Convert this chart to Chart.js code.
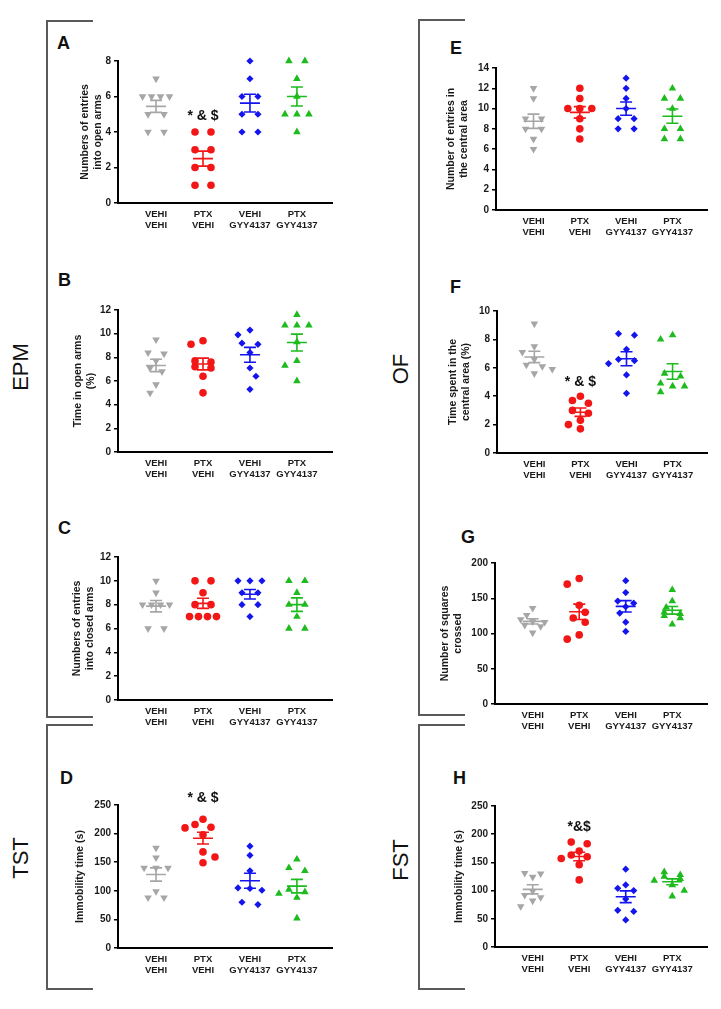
<!DOCTYPE html>
<html>
<head>
<meta charset="utf-8">
<script src="https://cdn.jsdelivr.net/npm/chart.js@4.4.1/dist/chart.umd.min.js"></script>
<style>
body { margin:0; background:#fff; width:721px; height:1009px; position:relative; overflow:hidden; font-family:"Liberation Sans", Arial, sans-serif; color:#111; }
.letter { position:absolute; font-weight:bold; font-size:18px; line-height:1; transform:translateY(-50%); }
.side { position:absolute; font-size:22px; line-height:1; white-space:nowrap; transform:translate(-50%,-50%) rotate(-90deg); }
.br { position:absolute; box-sizing:border-box; border:2px solid #5a5a5a; border-right:none; }
</style>
</head>
<body>
<div class="br" style="left:46px;top:20px;width:47px;height:698px"></div>
<div class="br" style="left:46px;top:724px;width:47px;height:266px"></div>
<div class="br" style="left:418px;top:19px;width:47px;height:697px"></div>
<div class="br" style="left:418px;top:724px;width:47px;height:266px"></div>

<div class="side" style="left:21px;top:367px">EPM</div>
<div class="side" style="left:21px;top:858px">TST</div>
<div class="side" style="left:401px;top:369px">OF</div>
<div class="side" style="left:401px;top:860px">FST</div>

<div class="letter" style="left:57px;top:43px">A</div>
<div class="letter" style="left:58px;top:280px">B</div>
<div class="letter" style="left:58px;top:528px">C</div>
<div class="letter" style="left:60px;top:778px">D</div>
<div class="letter" style="left:450px;top:48px">E</div>
<div class="letter" style="left:450px;top:287px">F</div>
<div class="letter" style="left:461px;top:537px">G</div>
<div class="letter" style="left:453px;top:778px">H</div>

<script>
// groups on the x axis
const groupLabels = [["VEHI", "VEHI"], ["PTX", "VEHI"], ["VEHI", "GYY4137"], ["PTX", "GYY4137"]];

// A - EPM, entries into open arms
const openArmEntries = [
    [7, 6, 6, 6, 6, 5, 5, 4, 4],
    [4, 4, 3, 3, 2, 2, 1, 1],
    [8, 7, 6, 6, 5, 5, 4, 4],
    [8, 8, 7, 6, 5, 5, 5, 4]
];
const openArmEntriesTicks = [0, 2, 4, 6, 8];

// B - EPM, time in open arms (%)
const openArmTime = [
    [9.5, 8.4, 8.3, 7.7, 7.1, 6.8, 5.7, 5.0],
    [9.4, 9.1, 7.7, 7.6, 7.2, 7.1, 6.4, 5.0],
    [10.3, 9.9, 9.2, 9.1, 8.4, 7.1, 6.4, 5.3],
    [11.6, 10.7, 10.7, 10.7, 9.3, 7.7, 7.3, 6.0]
];
const openArmTimeTicks = [0, 2, 4, 6, 8, 10, 12];

// C - EPM, entries into closed arms
const closedArmEntries = [
    [10, 9, 8, 8, 8, 8, 6, 6],
    [10, 10, 9, 8, 8, 7, 7, 7, 7],
    [10, 10, 10, 9, 9, 8, 8, 7],
    [10, 10, 9, 8, 8, 7, 6, 6]
];
const closedArmEntriesTicks = [0, 2, 4, 6, 8, 10, 12];

// D - TST immobility (s)
const tstImmobility = [
    [175, 158, 140, 140, 140, 99, 88, 88],
    [225, 216, 211, 210, 198, 168, 159, 149],
    [178, 162, 135, 105, 104, 101, 80, 76],
    [155, 140, 135, 102, 98, 95, 88, 52]
];
const tstImmobilityTicks = [0, 50, 100, 150, 200, 250];

// E - OF, entries in the central area
const centralEntries = [
    [12, 11, 9, 9, 8, 8, 7, 6],
    [12, 11, 10, 10, 10, 9, 8, 7],
    [13, 12, 11, 10, 9, 9, 8, 8],
    [12, 11, 11, 10, 8, 8, 7, 7]
];
const centralEntriesTicks = [0, 2, 4, 6, 8, 10, 12, 14];

// F - OF, time in the central area (%)
const centralTime = [
    [9.1, 7.5, 7.1, 6.6, 6.2, 6.1, 5.9, 5.6],
    [4.0, 3.7, 3.5, 3.0, 2.8, 2.3, 2.0, 1.7],
    [8.4, 8.3, 7.3, 6.6, 6.5, 6.3, 5.5, 4.2],
    [8.3, 8.0, 5.6, 5.4, 4.9, 4.7, 4.7, 4.3]
];
const centralTimeTicks = [0, 2, 4, 6, 8, 10];

// G - OF, squares crossed
const squaresCrossed = [
    [136, 126, 120, 117, 116, 112, 110, 101],
    [178, 170, 140, 130, 122, 116, 98, 92],
    [175, 158, 146, 143, 138, 129, 116, 103],
    [162, 146, 137, 130, 128, 125, 122, 113]
];
const squaresCrossedTicks = [0, 50, 100, 150, 200];

// H - FST immobility (s)
const fstImmobility = [
    [131, 130, 124, 99, 92, 88, 82, 72],
    [186, 183, 170, 163, 160, 157, 146, 119],
    [138, 110, 104, 100, 85, 65, 63, 48],
    [133, 128, 125, 121, 118, 110, 100, 90]
];
const fstImmobilityTicks = [0, 50, 100, 150, 200, 250];

const colors = ["#a6a6a6", "#f21616", "#1414ee", "#1dbb1d"];
const markers = [
    { style: "triangle", rotation: 180, radius: 4.4 },
    { style: "circle", rotation: 0, radius: 3.8 },
    { style: "rectRot", rotation: 0, radius: 3.6 },
    { style: "triangle", rotation: 0, radius: 4.4 }
];

const X_MIN = 0.19, X_MAX = 4.76;

const panels = [
    { data: openArmEntries, ticks: openArmEntriesTicks, title: ["Numbers of entries", "into open arms"], axisX: 118, top: 61, bottom: 203, right: 333, titleX: 85, sig: { text: "* & $", value: 4.9 } },
    { data: openArmTime, ticks: openArmTimeTicks, title: ["Time in open arms", "(%)"], axisX: 118, top: 310, bottom: 452, right: 333, titleX: 78 },
    { data: closedArmEntries, ticks: closedArmEntriesTicks, title: ["Numbers of entries", "into closed arms"], axisX: 118, top: 557, bottom: 700, right: 333, titleX: 77 },
    { data: tstImmobility, ticks: tstImmobilityTicks, title: "Immobility time (s)", axisX: 118, top: 805, bottom: 948, right: 333, titleX: 80, sig: { text: "* & $", value: 262 } },
    { data: centralEntries, ticks: centralEntriesTicks, title: ["Number of entries in", "the central area"], axisX: 496, top: 68, bottom: 210, right: 708, titleX: 451 },
    { data: centralTime, ticks: centralTimeTicks, title: ["Time spent in the", "central area (%)"], axisX: 497, top: 311, bottom: 453, right: 708, titleX: 453, sig: { text: "* & $", value: 5.0 } },
    { data: squaresCrossed, ticks: squaresCrossedTicks, title: ["Number of squares", "crossed"], axisX: 495, top: 563, bottom: 704, right: 708, titleX: 445 },
    { data: fstImmobility, ticks: fstImmobilityTicks, title: "Immobility time (s)", axisX: 495, top: 806, bottom: 947, right: 708, titleX: 459, sig: { text: "*&$", value: 213 } }
];

Chart.defaults.font.family = "'Liberation Sans', Arial, sans-serif";
Chart.defaults.color = "#1a1a1a";

// column scatter: equal values sit side by side, near values get pushed aside
function layoutPoints(values, pxPerUnit, pxPerX) {
    const sorted = values.slice().sort((a, b) => b - a);
    const rows = [];
    sorted.forEach(v => {
        const row = rows[rows.length - 1];
        if (row && (row[0] - v) * pxPerUnit < 3) row.push(v);
        else rows.push([v]);
    });
    const placed = [];
    let side = -1;
    rows.forEach(row => {
        const py = row[0] * pxPerUnit;
        if (row.length > 1) {
            const gap = row.length == 2 ? 16 : (row.length == 3 ? 12 : 9);
            row.forEach((v, k) => placed.push({ px: (k - (row.length - 1) / 2) * gap, py: v * pxPerUnit, y: v }));
            return;
        }
        const cands = [0];
        for (let k = 1; k <= 3; k++) cands.push(side * 6 * k, -side * 6 * k);
        let best = 0, bestDist = -1;
        for (const c of cands) {
            const d = placed.reduce((mn, q) => Math.min(mn, Math.hypot(q.px - c, q.py - py)), 99);
            if (d >= 8.5) { best = c; bestDist = d; break; }
            if (d > bestDist) { best = c; bestDist = d; }
        }
        if (best != 0) side = -Math.sign(best);
        placed.push({ px: best, py: py, y: row[0] });
    });
    return placed.map(q => ({ dx: q.px / pxPerX, y: q.y }));
}

const meanSemPlugin = {
    id: "meanSem",
    afterDatasetsDraw(chart, args, opts) {
        const p = panels[opts.index];
        const ctx = chart.ctx;
        const x = chart.scales.x, y = chart.scales.y;
        p.data.forEach((vals, g) => {
            const n = vals.length;
            const m = vals.reduce((a, b) => a + b, 0) / n;
            const sd = Math.sqrt(vals.reduce((a, b) => a + (b - m) * (b - m), 0) / (n - 1));
            const sem = sd / Math.sqrt(n);
            const px = x.getPixelForValue(g + 1);
            const yM = y.getPixelForValue(m), yT = y.getPixelForValue(m + sem), yB = y.getPixelForValue(m - sem);
            ctx.save();
            ctx.strokeStyle = colors[g];
            ctx.lineWidth = 1.6;
            ctx.beginPath();
            ctx.moveTo(px - 10, yM); ctx.lineTo(px + 10, yM);
            ctx.moveTo(px - 6, yT); ctx.lineTo(px + 6, yT);
            ctx.moveTo(px - 6, yB); ctx.lineTo(px + 6, yB);
            ctx.moveTo(px, yT); ctx.lineTo(px, yB);
            ctx.stroke();
            ctx.restore();
        });
        if (p.sig) {
            ctx.save();
            ctx.font = "bold 14px 'Liberation Sans', Arial, sans-serif";
            ctx.fillStyle = "#111";
            ctx.textAlign = "center";
            ctx.textBaseline = "middle";
            ctx.fillText(p.sig.text, x.getPixelForValue(2), y.getPixelForValue(p.sig.value));
            ctx.restore();
        }
    }
};
Chart.register(meanSemPlugin);

function buildPanel(p, index) {
    const padTop = 30, yW = 90, xH = 36, padR = 4;
    const plotW = p.right - p.axisX, plotH = p.bottom - p.top;
    const w = yW + plotW + padR, h = padTop + plotH + xH;
    const canvas = document.createElement("canvas");
    canvas.width = w;
    canvas.height = h;
    canvas.style.cssText = "position:absolute;left:" + (p.axisX - yW) + "px;top:" + (p.top - padTop) + "px;width:" + w + "px;height:" + h + "px";
    document.body.appendChild(canvas);

    const yMax = p.ticks[p.ticks.length - 1];
    const pxPerUnit = plotH / yMax;
    const pxPerX = plotW / (X_MAX - X_MIN);
    const lh = 10.5 * 1.25;

    const datasets = p.data.map((vals, g) => ({
        data: layoutPoints(vals, pxPerUnit, pxPerX).map(q => ({ x: g + 1 + q.dx, y: q.y })),
        pointStyle: markers[g].style,
        rotation: markers[g].rotation,
        pointRadius: markers[g].radius,
        pointHoverRadius: markers[g].radius,
        backgroundColor: colors[g],
        borderColor: colors[g],
        borderWidth: 0,
        clip: false
    }));

    new Chart(canvas, {
        type: "scatter",
        data: { datasets: datasets },
        options: {
            responsive: false,
            animation: false,
            devicePixelRatio: 1,
            layout: { padding: { top: padTop, right: padR, left: 0, bottom: 0 } },
            plugins: {
                legend: { display: false },
                tooltip: { enabled: false },
                meanSem: { index: index }
            },
            scales: {
                x: {
                    type: "linear",
                    min: X_MIN,
                    max: X_MAX,
                    afterBuildTicks: s => { s.ticks = groupLabels.map((_, i) => ({ value: i + 1 })); },
                    afterFit: s => { s.height = xH; },
                    ticks: {
                        callback: v => groupLabels[Math.round(v) - 1],
                        font: { size: 9.5, weight: "bold", lineHeight: 1.25 },
                        padding: 5,
                        autoSkip: false,
                        maxRotation: 0
                    },
                    grid: { display: false, drawTicks: false },
                    border: { display: true, color: "#000", width: 2 }
                },
                y: {
                    min: 0,
                    max: yMax,
                    afterBuildTicks: s => { s.ticks = p.ticks.map(v => ({ value: v })); },
                    afterFit: s => { s.width = yW; },
                    ticks: { font: { size: 10, weight: "bold" }, padding: 3 },
                    grid: { drawOnChartArea: false, drawTicks: true, tickLength: 4, color: "#000", lineWidth: 1.5 },
                    border: { display: true, color: "#000", width: 2 },
                    title: {
                        display: true,
                        text: p.title,
                        font: { size: 10.5, weight: "bold", lineHeight: 1.25 },
                        padding: { top: p.titleX - (p.axisX - yW) - lh / 2, bottom: 0 }
                    }
                }
            }
        }
    });
}

panels.forEach(buildPanel);
</script>
</body>
</html>
